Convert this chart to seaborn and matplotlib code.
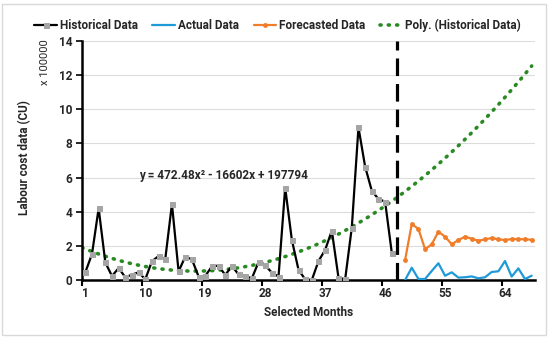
import numpy as np
import pandas as pd
import seaborn as sns
import matplotlib.pyplot as plt
from matplotlib.patches import Rectangle

# Values (units of 100000 CU)
hist_months = list(range(1, 48))
hist_values = [0.45, 1.52, 4.2, 1.03, 0.23, 0.70, 0.16, 0.31, 0.45, 0.04,
               1.10, 1.40, 1.23, 4.45, 0.50, 1.37, 1.21, 0.20, 0.23, 0.80,
               0.84, 0.29, 0.82, 0.33, 0.23, 0.10, 1.05, 0.86, 0.43, 0.20,
               5.41, 2.35, 0.60, 0.04, 0.00, 1.11, 1.76, 2.89, 0.14, 0.04,
               3.07, 8.94, 6.64, 5.23, 4.74, 4.59, 1.60]

future_months = list(range(49, 69))
actual_values = [0.00, 0.72, 0.06, 0.06, 0.53, 0.98, 0.25, 0.45, 0.14, 0.16,
                 0.21, 0.10, 0.16, 0.47, 0.51, 1.11, 0.20, 0.68, 0.06, 0.25]
forecast_values = [1.17, 3.28, 2.99, 1.80, 2.09, 2.83, 2.54, 2.09, 2.34, 2.54,
                   2.42, 2.30, 2.38, 2.46, 2.38, 2.34, 2.40, 2.40, 2.38, 2.36]

# polynomial trendline shown on the chart: y = 472.48x^2 - 16602x + 197794
trend_coefs = [472.48, -16602, 197794]
split_month = 47.85

x_ticks = [1, 10, 19, 28, 37, 46, 55, 64]
y_ticks = [0, 2, 4, 6, 8, 10, 12, 14]

hist_df = pd.DataFrame({"month": hist_months, "value": hist_values})
fut_df = pd.DataFrame({"month": future_months, "actual": actual_values,
                       "forecast": forecast_values})
trend_x = np.linspace(0.5, 68, 200)
trend_df = pd.DataFrame({"month": trend_x,
                         "value": np.polyval(trend_coefs, trend_x) / 100000})

sns.set_theme(style="white")
plt.rcParams["font.family"] = ["Roboto", "DejaVu Sans"]
plt.rcParams["font.weight"] = "bold"

fig = plt.figure(figsize=(5.5, 3.38), dpi=100)
ax = fig.add_axes([82 / 550, 1 - 280 / 338, 453 / 550, 239 / 338])

sns.lineplot(data=hist_df, x="month", y="value", ax=ax, color="black",
             linewidth=1.6, marker="s", markersize=3.6, markerfacecolor="#a5a5a5",
             markeredgecolor="#a5a5a5", label="Historical Data", zorder=3)
sns.lineplot(data=fut_df, x="month", y="actual", ax=ax, color="#1e9ad8",
             linewidth=1.6, label="Actual Data", zorder=3)
sns.lineplot(data=fut_df, x="month", y="forecast", ax=ax, color="#f07d2a",
             linewidth=1.6, marker="o", markersize=3.5, markeredgewidth=0,
             label="Forecasted Data", zorder=3)
sns.lineplot(data=trend_df, x="month", y="value", ax=ax, color="#2a8a22",
             linewidth=2.6, linestyle=(0, (0.3, 2.0)),
             label="Poly. (Historical Data)", zorder=2)
ax.lines[-1].set_dash_capstyle("round")

ax.axvline(split_month, color="black", linewidth=2.3, dashes=(5.5, 2.5), zorder=4)

ax.set_xlim(0.5, 68.5)
ax.set_ylim(0, 14)
ax.set_xticks(x_ticks)
ax.set_yticks(y_ticks)
ax.set_xticks(np.arange(0.5, 69, 9), minor=True)
ax.tick_params(axis="x", which="major", length=0, labelsize=8.5, pad=5)
ax.tick_params(axis="x", which="minor", length=4, width=1.5, direction="out",
               color="black", bottom=True)
ax.tick_params(axis="y", length=4, width=1.2, direction="out", color="black",
               left=True, labelsize=8.5, pad=3)
ax.yaxis.grid(True, color="#dcdcdc", linewidth=0.8)
ax.set_axisbelow(True)
for side in ["top", "right"]:
    ax.spines[side].set_visible(False)
for side in ["left", "bottom"]:
    ax.spines[side].set_color("black")
    ax.spines[side].set_linewidth(1.8)

ax.set_xlabel("Selected Months", fontsize=8.5, fontweight="bold", labelpad=4)
ax.set_ylabel("")
fig.text(25 / 550, 1 - 158 / 338, "Labour cost data (CU)", rotation=90,
         ha="center", va="center", fontsize=8.5, fontweight="bold")
fig.text(45 / 550, 1 - 62 / 338, "x 100000", rotation=90, ha="center",
         va="center", fontsize=8, fontweight="normal")

ax.text(9.1, 6.15, "y = 472.48x² - 16602x + 197794", ha="left", va="center",
        fontsize=8.5, fontweight="bold")

ax.get_legend().remove()
handles, labels = ax.get_legend_handles_labels()
fig.legend(handles, labels, ncol=4, loc="center", bbox_to_anchor=(0.505, 1 - 25 / 338),
           frameon=False, fontsize=8.5, handlelength=1.9, columnspacing=1.25,
           handletextpad=0.25)

fig.patches.append(Rectangle((2 / 550, 3 / 338), 544 / 550, 331 / 338,
                             transform=fig.transFigure, fill=False,
                             edgecolor="#d9d9d9", linewidth=1))

fig.savefig("out.png", dpi=100)
